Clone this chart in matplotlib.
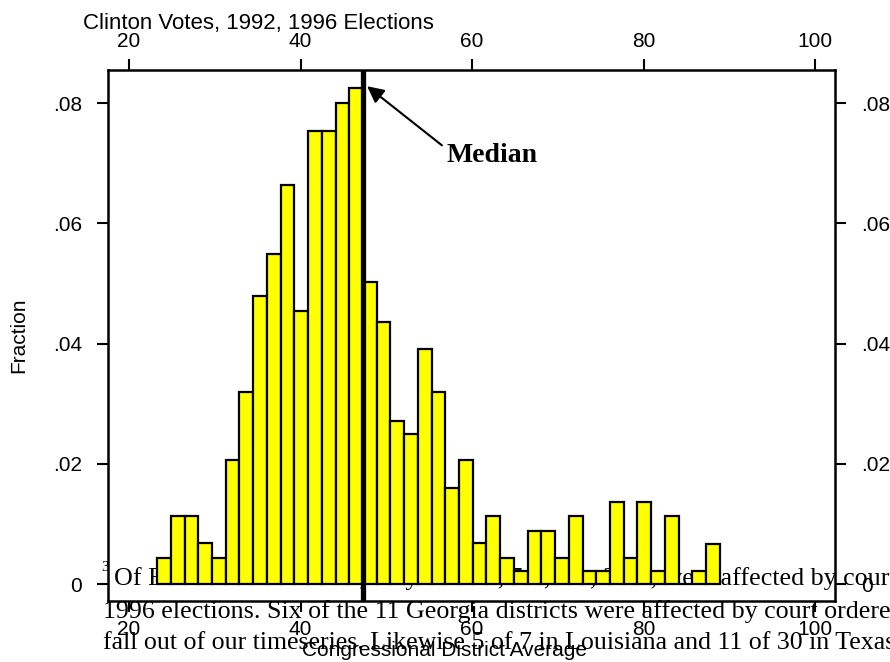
import matplotlib
matplotlib.use("Agg")
from matplotlib import pyplot as plt

# histogram of Clinton vote share by congressional district (fraction per bin)
bin_start = 23.27
bin_width = 1.6
fractions = [0.0044, 0.0114, 0.0114, 0.0068, 0.0044, 0.0206, 0.0320, 0.0479,
             0.0549, 0.0664, 0.0455, 0.0753, 0.0753, 0.0800, 0.0825, 0.0503,
             0.0436, 0.0272, 0.0249, 0.0391, 0.0320, 0.0160, 0.0206, 0.0068,
             0.0114, 0.0044, 0.0022, 0.0089, 0.0089, 0.0044, 0.0114, 0.0022,
             0.0022, 0.0136, 0.0044, 0.0136, 0.0022, 0.0114, 0.0, 0.0022,
             0.0067]
median = 47.3

x_ticks = [20, 40, 60, 80, 100]
y_ticks = [0, 0.02, 0.04, 0.06, 0.08]
y_ticklabels = ["0", ".02", ".04", ".06", ".08"]

footnote = [
    "Of Florida's 23 districts, only the 3rd, 5th, 7th, 23rd, were affected by court",
    "1996 elections. Six of the 11 Georgia districts were affected by court ordered",
    "fall out of our timeseries. Likewise 5 of 7 in Louisiana and 11 of 30 in Texas",
]

plt.rcParams['font.family'] = ['Liberation Sans', 'DejaVu Sans']
serif = ['Liberation Serif', 'DejaVu Serif']

fig = plt.figure(figsize=(8.9, 6.62), dpi=100)
ax = fig.add_axes([0.1219, 0.0921, 0.8163, 0.8022])

edges = [bin_start + i * bin_width for i in range(len(fractions))]
ax.bar(edges, fractions, width=bin_width, align='edge', color='#ffff00',
       edgecolor='black', linewidth=1.6, zorder=2)
ax.axvline(median, ymin=0, ymax=0.996, color='black', linewidth=3.8, zorder=3)

ax.annotate("Median", xy=(47.75, 0.0828), xytext=(57.05, 0.0702),
            fontsize=20, fontweight='bold', family=serif, ha='left', va='baseline',
            arrowprops=dict(arrowstyle='-|>', color='black', lw=1.5,
                            mutation_scale=25, shrinkA=2, shrinkB=0,
                            relpos=(0, 0.75)), zorder=4)

ax.set_xlim(17.6, 102.3)
ax.set_ylim(-0.0028, 0.0855)

ax.set_xticks(x_ticks)
ax.set_yticks(y_ticks)
ax.set_yticklabels(y_ticklabels)
ax.tick_params(axis='both', direction='out', length=8, width=1.5, labelsize=15)
ax.tick_params(axis='x', top=True, labeltop=True, pad=6)
ax.tick_params(axis='y', left=True, pad=11)
ax.tick_params(axis='y', right=True, labelright=True)
for s in ax.spines.values():
    s.set_linewidth(1.8)

ax.set_ylabel("Fraction", fontsize=15, labelpad=18)

fig.text(83 / 890, 1 - 23 / 662, "Clinton Votes, 1992, 1996 Elections",
         fontsize=16, ha='left', va='center')
fig.text(445 / 890, 1 - 651 / 662, "Congressional District Average",
         fontsize=15, ha='center', va='center')

# footnote text bleeding in from the page; first line sits behind the bars
ax.text(101.5 / 890, 1 - 571 / 662, "3", fontsize=11, family=serif,
        transform=fig.transFigure, ha='left', va='baseline', zorder=0.5, clip_on=False)
ax.text(114 / 890, 1 - 585 / 662, footnote[0], fontsize=18.7, family=serif,
        transform=fig.transFigure, ha='left', va='baseline', zorder=0.5, clip_on=False)
fig.text(103 / 890, 1 - 618 / 662, footnote[1], fontsize=18.7, family=serif,
         ha='left', va='baseline')
fig.text(103 / 890, 1 - 649 / 662, footnote[2], fontsize=18.6, family=serif,
         ha='left', va='baseline')

plt.savefig('out.png', dpi=100)
